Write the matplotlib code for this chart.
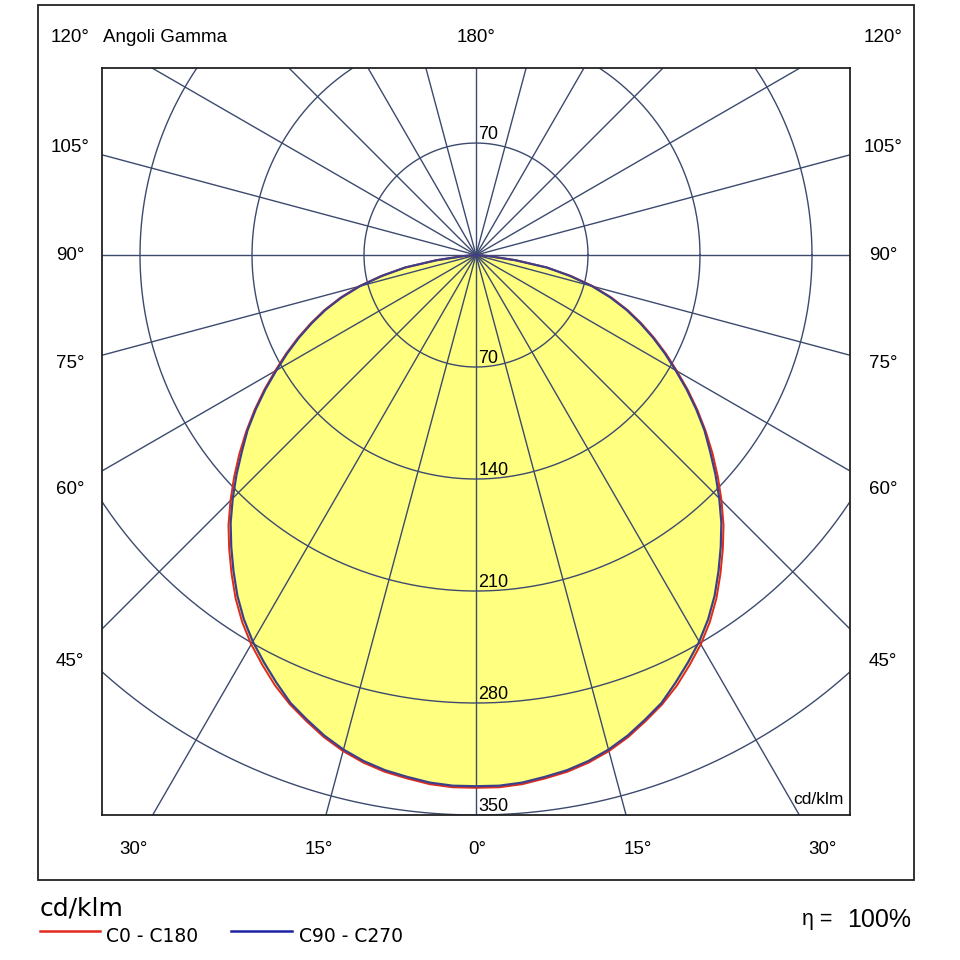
import numpy as np
import matplotlib
matplotlib.use("Agg")
import matplotlib.pyplot as plt
from matplotlib.patches import Rectangle

plt.rcParams['font.family'] = ['Liberation Sans', 'DejaVu Sans']

# gamma angles (deg) and intensity in cd/klm for both planes
gamma_deg = [0, 2.5, 5, 7.5, 10, 12.5, 15, 17.5, 20, 22.5, 25, 27.5, 30, 32.5, 35, 37.5,
             40, 42.5, 45, 47.5, 50, 52.5, 55, 57.5, 60, 62.5, 65, 67.5, 70, 72.5, 75,
             77.5, 80, 82.5, 85, 87.5, 90]
c0_c180 = [333, 333, 332, 330, 328, 325, 321, 316, 310, 304, 297, 289, 281, 272, 262, 251,
           240, 229, 217, 205, 193, 181, 169, 157, 145, 134, 123, 112, 101, 89, 76,
           61, 45, 25, 8, 2, 0]
c90_c270 = [332, 332, 331, 329, 327, 324, 320, 315, 309, 303, 295, 287, 279, 270, 260, 249,
            238, 227, 215, 203, 191, 180, 168, 156, 144, 133, 122, 111, 100, 88, 75,
            60, 45, 25, 8, 2, 0]

ring_values = [70, 140, 210, 280, 350]
spoke_step = 15

left_labels = ["120°", "105°", "90°", "75°", "60°", "45°"]
left_label_y = [37, 147, 255, 363, 490, 662]
bottom_labels = ["30°", "15°", "0°", "15°", "30°"]
bottom_label_x = [134, 319, 477, 638, 823]

grid_col = '#3c4a6e'
red = '#e02a1e'
blue = '#1c22a0'
curve_blue = '#3d4088'
yellow = '#ffff80'

W = 960.0


def fx(x):
    return x / W


def fy(y):
    return 1 - y / W


fig = plt.figure(figsize=(9.6, 9.6), dpi=100)
ax = fig.add_axes([fx(102), fy(815), 748 / W, 747 / W])
ax.set_xlim(-233.75, 233.75)
ax.set_ylim(-350, 116.9)
ax.set_xticks([])
ax.set_yticks([])
for s in ax.spines.values():
    s.set_linewidth(1.3)
    s.set_color('#222222')

# polar curve, left half is the mirror plane
g = np.radians(gamma_deg)


def outline(vals):
    v = np.array(vals, dtype=float)
    xs = np.concatenate([-(v * np.sin(g))[::-1], (v * np.sin(g))[1:]])
    ys = np.concatenate([-(v * np.cos(g))[::-1], -(v * np.cos(g))[1:]])
    return xs, ys


xr, yr = outline(c0_c180)
xb, yb = outline(c90_c270)
ax.fill(xr, yr, color=yellow, zorder=1, lw=0)

# grid: rings and spokes
t = np.linspace(0, 2 * np.pi, 721)
for r in ring_values:
    ax.plot(r * np.cos(t), r * np.sin(t), color=grid_col, lw=1.0, zorder=2)
for a in range(0, 360, spoke_step):
    ar = np.radians(a)
    ax.plot([0, 1000 * np.sin(ar)], [0, -1000 * np.cos(ar)], color=grid_col, lw=1.0, zorder=2)

ax.plot(xr, yr, color=red, lw=1.4, zorder=3)
ax.plot(xb, yb, color=curve_blue, lw=1.6, zorder=4)

# ring labels
ax.text(1.5, ring_values[0] + 2.5, str(ring_values[0]), fontsize=13, va='baseline', ha='left', zorder=5)
for r in ring_values:
    ax.text(1.5, -r + 2.5, str(r), fontsize=13, va='baseline', ha='left', zorder=5)
ax.text(230, -343, "cd/klm", fontsize=12.5, ha='right', va='baseline', zorder=5)

# outer frame
fig.add_artist(Rectangle((fx(38), fy(880)), 876 / W, 875 / W, transform=fig.transFigure,
                         fill=False, lw=1.3, ec='#222222'))

# angle labels around the box
for lab, y in zip(left_labels, left_label_y):
    fig.text(fx(70), fy(y), lab, fontsize=13.5, ha='center', va='center')
    fig.text(fx(883), fy(y), lab, fontsize=13.5, ha='center', va='center')
fig.text(fx(103), fy(37), "Angoli Gamma", fontsize=13.5, ha='left', va='center')
fig.text(fx(476), fy(37), "180°", fontsize=13.5, ha='center', va='center')
for lab, x in zip(bottom_labels, bottom_label_x):
    fig.text(fx(x), fy(849), lab, fontsize=13.5, ha='center', va='center')

# legend
fig.text(fx(40), fy(916), "cd/klm", fontsize=18, ha='left', va='baseline', family='DejaVu Sans')
fig.add_artist(plt.Line2D([fx(40), fx(100)], [fy(931), fy(931)], color=red, lw=1.8))
fig.text(fx(106), fy(942), "C0 - C180", fontsize=13.5, ha='left', va='baseline', family='DejaVu Sans')
fig.add_artist(plt.Line2D([fx(231), fx(292)], [fy(931), fy(931)], color=blue, lw=1.8))
fig.text(fx(299), fy(942), "C90 - C270", fontsize=13.5, ha='left', va='baseline', family='DejaVu Sans')
fig.text(fx(838), fy(925), "η = ", fontsize=15.5, ha='right', va='baseline')
fig.text(fx(847), fy(927), "100%", fontsize=18, ha='left', va='baseline')

fig.savefig("out.png", dpi=100, facecolor='white')
